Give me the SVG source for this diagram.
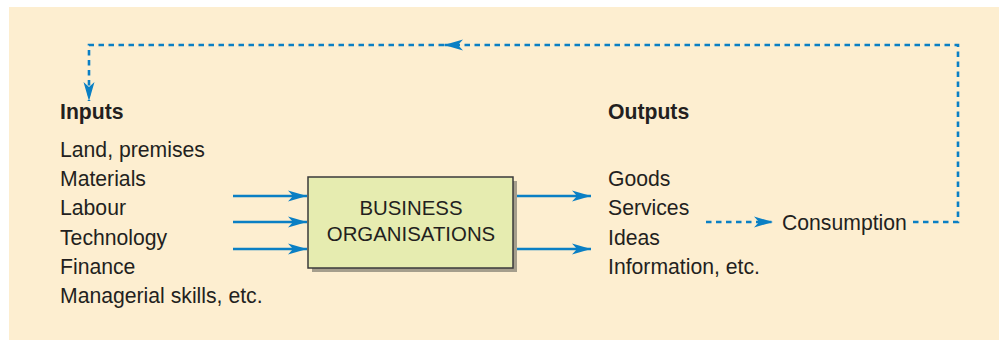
<svg xmlns="http://www.w3.org/2000/svg" width="999" height="340" viewBox="0 0 999 340">
<style>
.t{font-family:"Liberation Sans",Arial,sans-serif;font-size:21.2px;fill:#231f20}
.b{font-weight:bold}
.c{text-anchor:middle;font-size:20.4px}
.s{stroke:#0a7fc4;stroke-width:2.6;fill:none}
.d{stroke:#0a7fc4;stroke-width:2.6;fill:none;stroke-dasharray:5.5 4.5}
</style>
<defs>
<marker id="ah" markerWidth="20" markerHeight="12" refX="19" refY="6" orient="auto" markerUnits="userSpaceOnUse">
<path d="M0,0.5 L19,6 L0,11.5 L5,6 Z" fill="#0a7fc4"/>
</marker>
</defs>
<rect x="9" y="7" width="990" height="333" fill="#fdeed0"/>
<g id="connectors">
<line class="s" x1="233" y1="196" x2="307" y2="196" marker-end="url(#ah)"/>
<line class="s" x1="233" y1="222" x2="307" y2="222" marker-end="url(#ah)"/>
<line class="s" x1="233" y1="249" x2="307" y2="249" marker-end="url(#ah)"/>
<line class="s" x1="514" y1="196" x2="591" y2="196" marker-end="url(#ah)"/>
<line class="s" x1="514" y1="249" x2="591" y2="249" marker-end="url(#ah)"/>
<line class="d" x1="706" y1="222" x2="773" y2="222" marker-end="url(#ah)"/>
<polyline class="d" points="913,222 958,222 958,45 444,45" marker-end="url(#ah)"/>
<polyline class="d" points="444,45 89,45 89,101" marker-end="url(#ah)"/>
</g>
<g id="business">
<rect x="312" y="181" width="205" height="91" fill="#a59e8c"/>
<rect x="308" y="177" width="205" height="91" fill="#e6ecb0" stroke="#3a3a3a" stroke-width="1.5"/>
<text class="t c" x="411" y="215">BUSINESS</text>
<text class="t c" x="411" y="241">ORGANISATIONS</text>
</g>
<g id="inputs">
<text class="t b" x="60" y="119">Inputs</text>
<text class="t" x="60" y="157">Land, premises</text>
<text class="t" x="60" y="186">Materials</text>
<text class="t" x="60" y="215">Labour</text>
<text class="t" x="60" y="245">Technology</text>
<text class="t" x="60" y="274">Finance</text>
<text class="t" x="60" y="303">Managerial skills, etc.</text>
</g>
<g id="outputs">
<text class="t b" x="608" y="119">Outputs</text>
<text class="t" x="608" y="186">Goods</text>
<text class="t" x="608" y="215">Services</text>
<text class="t" x="608" y="245">Ideas</text>
<text class="t" x="608" y="274">Information, etc.</text>
</g>
<g id="consumption">
<text class="t" x="782" y="230">Consumption</text>
</g>
</svg>
